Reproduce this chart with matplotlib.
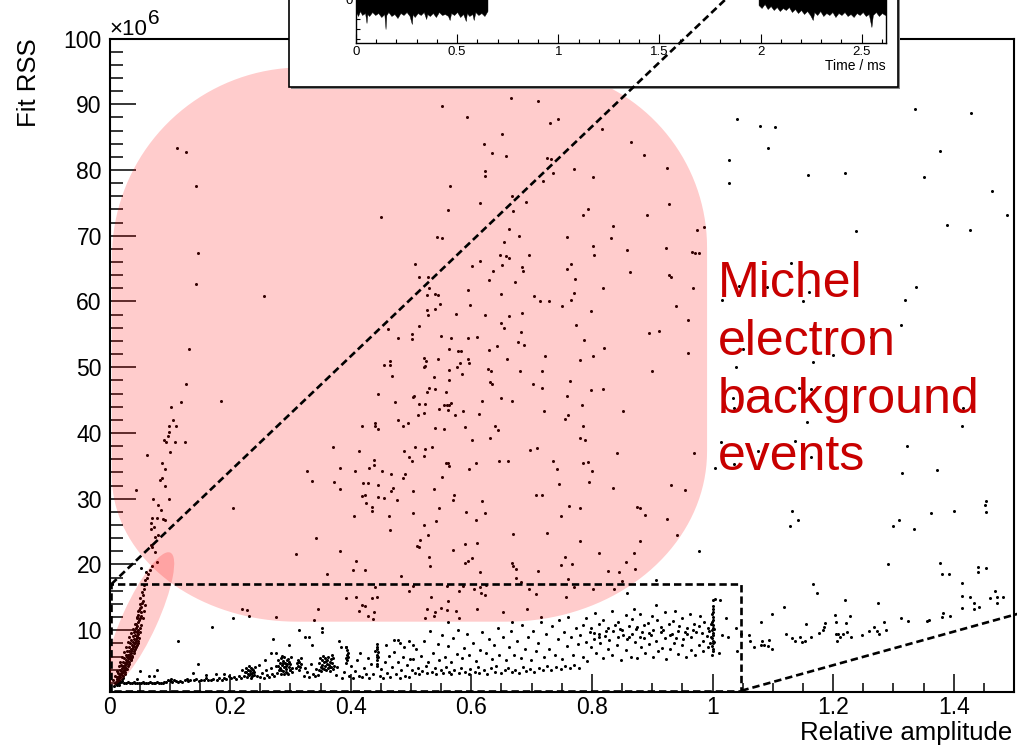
import matplotlib
matplotlib.use('Agg')
import matplotlib.pyplot as plt
import matplotlib.transforms as mtransforms
import numpy as np
from matplotlib.lines import Line2D
from matplotlib.patches import Ellipse, Polygon, Rectangle
from matplotlib.ticker import FixedLocator, FuncFormatter, MultipleLocator

plt.rcParams['font.family'] = ['Liberation Sans', 'DejaVu Sans']

FIG_W, FIG_H = 1017, 752

# (relative amplitude, fit RSS / 1e6)
michel_events = [
    (0.112, 83.4), (0.127, 82.8), (0.144, 77.5), (0.451, 72.9), (0.146, 67.3), (0.144, 62.7),
    (0.256, 60.9), (0.132, 52.7), (0.462, 55.8), (0.478, 54.4), (0.502, 55.1), (0.502, 54.3),
    (0.456, 50.4), (0.465, 50.4), (0.466, 51.0),
    (0.666, 91.0), (0.711, 90.5), (0.551, 89.8), (0.593, 88.0), (0.743, 87.8), (0.730, 87.1),
    (0.816, 86.2), (0.651, 85.4), (0.865, 84.2), (0.621, 84.0), (0.635, 82.6), (0.657, 82.1),
    (0.887, 82.3), (0.726, 81.9), (0.732, 81.6), (0.770, 80.1), (0.925, 80.3), (0.622, 79.9),
    (0.622, 79.1), (0.735, 79.5), (0.801, 78.9), (0.719, 78.3), (0.564, 77.6), (0.667, 76.1),
    (0.690, 75.2), (0.615, 75.0), (0.928, 74.8), (0.561, 73.9), (0.669, 73.8), (0.794, 74.1),
    (0.785, 73.2), (0.892, 73.1), (0.835, 71.5), (0.986, 71.3), (0.975, 70.9), (0.663, 71.1),
    (0.543, 69.8), (0.551, 69.6), (0.679, 69.9), (0.758, 69.8), (0.831, 69.7), (0.655, 69.1),
    (0.801, 68.5), (0.859, 67.9), (0.923, 68.1), (0.966, 67.6), (0.971, 67.4), (0.977, 67.4),
    (0.507, 65.7), (0.648, 67.0), (0.657, 66.9), (0.662, 66.6), (0.695, 67.0), (0.803, 67.1),
    (0.614, 66.2), (0.601, 65.4), (0.651, 65.6), (0.684, 65.3), (0.686, 64.6), (0.758, 65.0),
    (0.765, 65.7), (0.636, 64.6), (0.863, 64.5), (0.928, 64.0), (0.931, 63.7), (0.513, 63.8),
    (0.529, 63.7), (0.772, 63.4), (0.629, 63.2), (0.672, 63.0), (0.530, 62.0), (0.819, 62.0),
    (0.968, 62.0), (0.595, 61.7), (0.527, 61.0), (0.539, 61.2), (0.545, 61.0), (0.650, 61.1),
    (0.704, 60.9), (0.770, 61.3), (0.714, 60.0), (0.729, 60.0), (0.766, 60.2), (0.750, 59.3),
    (0.548, 59.6), (0.598, 59.4), (0.940, 59.3), (0.527, 58.7), (0.529, 57.9), (0.540, 58.9),
    (0.575, 58.1), (0.622, 57.9), (0.663, 57.8), (0.684, 58.3), (0.799, 58.6), (0.960, 57.2),
    (0.649, 56.8), (0.654, 55.9), (0.773, 56.5), (0.513, 56.3), (0.549, 54.7), (0.566, 54.4),
    (0.595, 54.4), (0.609, 54.6), (0.682, 55.4), (0.677, 53.9), (0.688, 53.4), (0.895, 55.2),
    (0.912, 55.5), (0.787, 54.2), (0.563, 52.7), (0.578, 52.5), (0.583, 52.4), (0.630, 52.6),
    (0.643, 53.3), (0.820, 52.9), (0.960, 52.1), (0.723, 51.7), (0.801, 51.7), (0.545, 51.3),
    (0.521, 51.4), (0.525, 50.9), (0.524, 50.2), (0.522, 50.1), (0.594, 51.3), (0.597, 50.7),
    (0.582, 50.7), (0.577, 50.1), (0.660, 51.3), (0.781, 51.1), (0.563, 49.6), (0.627, 49.8),
    (0.632, 49.5), (0.585, 49.0), (0.681, 49.4), (0.718, 49.5), (0.900, 49.5),
    (0.204, 28.6), (0.343, 24.0), (0.310, 21.6), (0.383, 22.1), (0.360, 18.6), (0.403, 19.2),
    (0.424, 19.1), (0.409, 20.5), (0.483, 18.2), (0.328, 34.2), (0.336, 32.7), (0.370, 37.9),
    (0.382, 34.6), (0.373, 32.5), (0.382, 31.5), (0.414, 37.3), (0.407, 34.2), (0.419, 41.1),
    (0.440, 41.5), (0.441, 41.0), (0.445, 40.6), (0.445, 45.9), (0.468, 48.7), (0.473, 44.7),
    (0.478, 41.9), (0.487, 41.0), (0.495, 41.5), (0.504, 45.5), (0.438, 35.9), (0.430, 34.6),
    (0.439, 35.1), (0.452, 34.2), (0.467, 33.7), (0.420, 32.4), (0.429, 32.4), (0.445, 32.1),
    (0.470, 31.6), (0.467, 31.2), (0.490, 33.8), (0.486, 33.1), (0.497, 36.4), (0.502, 35.8),
    (0.488, 37.2), (0.418, 30.4), (0.423, 30.6), (0.425, 29.4), (0.445, 30.2), (0.455, 30.1),
    (0.476, 29.8), (0.436, 28.8), (0.436, 28.1), (0.405, 27.3), (0.463, 27.3), (0.465, 25.3),
    (0.504, 31.1), (0.503, 27.8), (0.440, 16.5), (0.436, 14.9), (0.444, 15.1), (0.409, 15.1),
    (0.392, 14.9), (0.418, 13.9), (0.423, 13.7), (0.413, 12.9), (0.439, 12.7), (0.437, 11.7),
    (0.428, 12.2), (0.496, 15.9), (0.346, 13.2), (0.339, 11.6), (0.276, 12.0), (0.220, 13.3),
    (0.228, 13.1), (0.231, 12.2), (0.205, 11.8),
    (0.538, 48.5), (0.563, 48.1), (0.631, 47.7), (0.635, 47.4), (0.702, 47.4), (0.717, 46.9),
    (0.764, 47.9), (0.799, 46.5), (0.819, 46.7), (0.530, 46.8), (0.526, 46.2), (0.539, 46.7),
    (0.558, 46.2), (0.505, 45.6), (0.513, 44.4), (0.523, 44.4), (0.512, 42.7), (0.522, 43.0),
    (0.554, 44.3), (0.559, 44.3), (0.563, 44.2), (0.567, 44.6), (0.546, 43.6), (0.561, 43.5),
    (0.573, 42.8), (0.587, 43.3), (0.617, 44.9), (0.650, 45.3), (0.667, 44.9), (0.612, 42.9),
    (0.721, 43.4), (0.758, 45.6), (0.783, 44.2), (0.756, 42.1), (0.760, 42.8), (0.852, 43.3),
    (0.540, 40.7), (0.554, 40.6), (0.590, 40.9), (0.639, 41.0), (0.644, 40.4), (0.785, 41.1),
    (0.781, 39.2), (0.788, 38.9), (0.601, 38.9), (0.631, 39.2), (0.507, 37.8), (0.524, 37.6),
    (0.535, 37.8), (0.521, 36.5), (0.558, 35.5), (0.561, 35.5), (0.563, 35.0), (0.597, 34.5),
    (0.608, 35.4), (0.646, 35.8), (0.661, 35.7), (0.697, 37.4), (0.709, 37.7), (0.735, 35.8),
    (0.742, 34.5), (0.786, 35.5), (0.793, 35.6), (0.800, 34.2), (0.795, 32.6), (0.842, 36.9),
    (0.970, 36.9), (0.552, 33.3), (0.745, 32.3), (0.835, 31.6), (0.932, 32.1), (0.954, 31.4),
    (0.538, 31.5), (0.572, 30.6), (0.569, 29.8), (0.617, 29.6), (0.708, 30.6), (0.717, 30.6),
    (0.546, 28.6), (0.592, 28.0), (0.622, 27.9), (0.541, 26.6), (0.607, 26.7), (0.762, 28.9),
    (0.780, 28.6), (0.748, 27.4), (0.874, 28.8), (0.879, 28.6), (0.888, 27.5), (0.924, 26.9),
    (0.522, 26.0), (0.528, 24.5), (0.515, 23.7), (0.510, 22.8), (0.514, 22.7), (0.669, 24.6),
    (0.725, 24.8), (0.781, 23.6), (0.590, 23.1), (0.609, 23.3), (0.570, 22.2), (0.880, 23.5),
    (0.941, 24.5), (0.978, 22.0), (0.811, 21.8), (0.870, 21.7), (0.530, 21.1), (0.532, 19.7),
    (0.590, 20.2), (0.595, 20.6), (0.601, 21.0), (0.668, 20.3), (0.669, 19.7), (0.674, 19.3),
    (0.756, 21.1), (0.748, 19.9), (0.767, 20.1), (0.857, 20.4), (0.871, 19.3), (0.615, 18.9),
    (0.711, 19.0), (0.826, 19.0), (0.845, 18.9), (0.674, 17.9), (0.683, 17.4), (0.760, 17.8),
    (0.850, 17.5), (0.906, 17.7), (0.503, 16.8), (0.560, 16.8), (0.587, 16.8), (0.614, 16.6),
    (0.624, 16.9), (0.695, 16.2), (0.707, 15.5), (0.771, 16.5), (0.801, 16.2), (0.837, 16.3),
    (0.858, 15.7), (0.580, 16.0), (0.604, 16.2), (0.616, 15.7), (0.623, 15.3), (0.533, 15.1),
    (0.757, 15.0), (0.562, 14.5), (0.527, 13.3), (0.540, 12.8), (0.538, 12.2), (0.549, 13.4),
    (0.560, 13.1), (0.574, 13.0), (0.523, 11.9), (0.580, 11.9), (0.609, 13.3), (0.652, 12.7),
    (0.692, 13.2), (0.716, 12.0), (0.562, 11.3), (0.667, 11.3),
]

steep_branch = [
    (0.008, 1.5), (0.010, 1.8), (0.012, 1.6), (0.011, 2.2), (0.014, 2.0), (0.013, 2.6),
    (0.016, 2.4), (0.015, 3.0), (0.018, 2.9), (0.017, 3.4), (0.020, 3.2), (0.019, 3.8),
    (0.022, 3.6), (0.021, 4.2), (0.024, 4.0), (0.023, 4.6), (0.026, 4.4), (0.025, 5.0),
    (0.028, 4.9), (0.027, 5.4), (0.030, 5.3), (0.029, 5.9), (0.032, 5.7), (0.031, 6.3),
    (0.034, 6.1), (0.033, 6.8), (0.036, 6.6), (0.035, 7.2), (0.038, 7.1), (0.037, 7.7),
    (0.040, 7.6), (0.039, 8.2), (0.042, 8.0), (0.041, 8.7), (0.044, 8.6), (0.043, 9.2),
    (0.046, 9.1), (0.045, 9.8), (0.015, 1.7), (0.018, 2.1), (0.020, 2.6), (0.023, 3.1),
    (0.025, 3.6), (0.028, 4.1), (0.030, 4.6), (0.033, 5.1), (0.035, 5.6), (0.038, 6.1),
    (0.040, 6.6), (0.043, 7.1), (0.045, 7.7), (0.047, 8.3), (0.012, 2.9), (0.014, 3.5),
    (0.017, 4.0), (0.019, 4.7), (0.022, 5.2), (0.024, 5.8), (0.027, 6.3), (0.029, 6.9),
    (0.032, 7.4), (0.034, 8.0), (0.036, 8.5), (0.039, 9.1), (0.041, 9.7), (0.044, 10.3),
    (0.009, 1.9), (0.013, 2.3), (0.016, 2.7), (0.019, 3.3), (0.021, 3.7), (0.024, 4.3),
    (0.026, 4.7), (0.029, 5.2), (0.031, 5.8), (0.034, 6.4), (0.036, 6.9), (0.039, 7.4),
    (0.041, 8.0), (0.044, 8.3), (0.046, 8.9), (0.048, 9.5), (0.047, 10.1), (0.043, 9.9),
    (0.050, 10.4), (0.049, 11.6), (0.046, 12.0), (0.052, 12.2),
    (0.006, 2.4), (0.016, 1.9), (0.009, 3.0), (0.020, 2.3), (0.012, 3.8), (0.023, 2.8),
    (0.015, 4.5), (0.026, 3.4), (0.018, 5.2), (0.029, 4.1), (0.021, 6.0), (0.032, 4.8),
    (0.024, 6.7), (0.035, 5.4), (0.027, 7.5), (0.038, 6.0), (0.030, 8.2), (0.041, 6.8),
    (0.033, 8.9), (0.044, 7.5), (0.036, 9.6), (0.047, 8.0), (0.039, 10.2), (0.049, 8.8),
    (0.042, 11.0), (0.051, 9.7), (0.045, 11.8), (0.053, 10.8), (0.048, 12.9), (0.055, 11.9),
    (0.051, 13.4), (0.057, 12.9), (0.054, 14.2), (0.059, 13.9),
    (0.046, 10.6), (0.048, 11.2), (0.044, 11.0), (0.050, 11.9), (0.047, 12.3), (0.052, 12.8),
    (0.049, 13.1), (0.053, 13.6), (0.051, 14.0), (0.055, 14.5), (0.050, 14.9), (0.056, 15.3),
    (0.054, 15.8), (0.058, 16.2), (0.057, 16.9), (0.059, 17.6), (0.063, 17.9), (0.064, 18.6),
    (0.061, 18.9), (0.067, 19.2), (0.052, 19.4), (0.070, 19.7), (0.079, 20.4), (0.076, 21.9),
    (0.070, 22.7), (0.068, 23.0), (0.076, 24.2), (0.080, 24.5), (0.068, 25.4), (0.074, 25.7),
    (0.069, 26.3), (0.070, 27.0), (0.078, 27.0), (0.089, 26.9), (0.092, 26.8), (0.081, 29.0),
    (0.085, 28.3), (0.098, 30.0), (0.072, 30.0), (0.044, 31.4), (0.092, 31.9), (0.087, 33.1),
    (0.084, 32.9), (0.092, 34.5), (0.087, 35.5), (0.063, 36.6), (0.101, 37.1), (0.091, 38.9),
    (0.094, 38.7), (0.109, 38.6), (0.126, 38.7), (0.097, 39.6), (0.099, 40.1), (0.099, 41.0),
    (0.110, 41.0), (0.105, 42.0), (0.102, 43.9), (0.119, 44.7), (0.185, 44.8), (0.127, 47.4),
]

muon_band = [
    (0.024, 2.0), (0.028, 1.9), (0.031, 2.1), (0.034, 1.9), (0.037, 2.0), (0.040, 2.1),
    (0.043, 1.9), (0.046, 2.0), (0.049, 2.0), (0.052, 1.9), (0.055, 2.1), (0.058, 2.0),
    (0.061, 1.9), (0.064, 2.0), (0.067, 2.1), (0.070, 2.0), (0.073, 1.9), (0.076, 2.0),
    (0.079, 2.1), (0.082, 2.0), (0.085, 1.9), (0.088, 2.0), (0.091, 2.1), (0.051, 3.8),
    (0.079, 4.0), (0.066, 3.1), (0.073, 3.1), (0.045, 2.6),
    (0.094, 2.2), (0.097, 2.5), (0.100, 2.3), (0.102, 2.6), (0.104, 2.2), (0.107, 2.4),
    (0.110, 2.3), (0.113, 2.1), (0.117, 2.3), (0.121, 2.2), (0.125, 2.4), (0.128, 2.6),
    (0.131, 2.3), (0.134, 2.5), (0.138, 3.5), (0.140, 2.4), (0.144, 2.6), (0.148, 2.3),
    (0.152, 2.5), (0.156, 2.4), (0.160, 2.7), (0.164, 2.5), (0.168, 2.4), (0.172, 2.6),
    (0.176, 3.3), (0.178, 2.5), (0.182, 2.7), (0.186, 2.5), (0.190, 2.8), (0.194, 2.6),
    (0.198, 3.0), (0.202, 2.7), (0.206, 2.9), (0.210, 2.6), (0.214, 3.1), (0.218, 2.8),
    (0.220, 4.0), (0.147, 4.8), (0.114, 8.3), (0.170, 10.5), (0.160, 3.2), (0.190, 3.4),
    (0.223, 3.0), (0.225, 3.6), (0.226, 4.2), (0.228, 2.9), (0.229, 3.4), (0.230, 4.0),
    (0.231, 4.5), (0.232, 3.2), (0.233, 3.8), (0.234, 2.8), (0.235, 4.3), (0.236, 3.5),
    (0.237, 3.0), (0.238, 4.0), (0.239, 3.6), (0.240, 3.2), (0.241, 4.4), (0.227, 3.7),
    (0.233, 3.3), (0.236, 4.1),
    (0.245, 3.1), (0.248, 4.7), (0.250, 2.9), (0.253, 3.5), (0.256, 2.8), (0.259, 3.9),
    (0.262, 3.2), (0.265, 2.9), (0.268, 4.2), (0.270, 3.4), (0.273, 3.0), (0.276, 4.5),
    (0.258, 5.5), (0.268, 6.5), (0.276, 6.5), (0.271, 8.7),
    (0.278, 3.5), (0.279, 4.6), (0.280, 5.4), (0.281, 3.9), (0.282, 5.0), (0.283, 4.2),
    (0.284, 5.8), (0.285, 3.4), (0.286, 4.7), (0.287, 5.3), (0.288, 3.8), (0.289, 4.4),
    (0.290, 6.0), (0.291, 5.0), (0.292, 3.6), (0.293, 4.1), (0.294, 5.5), (0.295, 4.8),
    (0.296, 3.3), (0.297, 4.4), (0.298, 5.2), (0.299, 3.9), (0.300, 4.9), (0.301, 5.9),
    (0.302, 4.2), (0.303, 3.6), (0.284, 4.0), (0.288, 5.0), (0.292, 4.6), (0.296, 5.6),
    (0.300, 4.0), (0.290, 3.3), (0.286, 6.1), (0.294, 3.5),
    (0.310, 4.2), (0.311, 5.0), (0.312, 4.6), (0.313, 5.5), (0.314, 4.0), (0.315, 5.2),
    (0.316, 4.4), (0.317, 5.7), (0.318, 4.8),
    (0.322, 3.1), (0.325, 4.3), (0.328, 3.6), (0.331, 2.9), (0.334, 4.8), (0.337, 3.4),
    (0.340, 3.0), (0.343, 4.1), (0.345, 3.2), (0.298, 7.8), (0.324, 8.9), (0.331, 9.0),
    (0.335, 7.8), (0.314, 10.1), (0.352, 10.3), (0.352, 9.7),
    (0.347, 4.0), (0.348, 5.0), (0.349, 5.8), (0.350, 4.4), (0.351, 3.8), (0.352, 5.4),
    (0.353, 4.7), (0.354, 6.1), (0.355, 4.1), (0.356, 5.2), (0.357, 4.5), (0.358, 5.8),
    (0.359, 3.9), (0.360, 4.9), (0.361, 5.5), (0.362, 4.3), (0.363, 6.0), (0.364, 4.7),
    (0.365, 5.1), (0.366, 3.8), (0.367, 5.6), (0.368, 4.4), (0.369, 5.0), (0.370, 4.1),
    (0.371, 5.7), (0.372, 4.6), (0.353, 4.2), (0.359, 5.3), (0.365, 4.4), (0.369, 6.2),
    (0.376, 3.2), (0.378, 4.4), (0.381, 8.4), (0.384, 7.4), (0.386, 2.8), (0.389, 3.6),
    (0.392, 7.5), (0.396, 6.0), (0.398, 3.0), (0.401, 4.5), (0.404, 2.7), (0.407, 3.8),
    (0.410, 5.4), (0.413, 3.1), (0.416, 6.5), (0.419, 2.9), (0.422, 4.2), (0.425, 3.4),
    (0.428, 5.7), (0.431, 2.8), (0.434, 4.8), (0.437, 3.3), (0.440, 6.8),
    (0.393, 5.0), (0.394, 5.4), (0.393, 5.8), (0.394, 6.2), (0.395, 6.6), (0.394, 7.0),
    (0.393, 7.4),
    (0.444, 5.5), (0.443, 5.9), (0.444, 6.3), (0.445, 6.7), (0.444, 7.1), (0.443, 7.5),
    (0.444, 7.9), (0.445, 6.0), (0.444, 4.5), (0.444, 4.9),
    (0.448, 3.0), (0.451, 4.1), (0.454, 2.8), (0.457, 5.2), (0.458, 7.7), (0.460, 3.5),
    (0.463, 6.1), (0.466, 2.9), (0.469, 4.4), (0.471, 8.5), (0.472, 6.7), (0.475, 3.3),
    (0.478, 8.5), (0.478, 5.1), (0.481, 2.8), (0.482, 8.0), (0.484, 3.9), (0.487, 6.0),
    (0.488, 7.4), (0.490, 3.1), (0.493, 4.7), (0.496, 2.9), (0.497, 8.3), (0.499, 5.6),
    (0.504, 7.8),
    (0.501, 3.9), (0.506, 3.5), (0.511, 4.3), (0.514, 3.4), (0.519, 3.8), (0.525, 4.5),
    (0.527, 3.5), (0.534, 3.7), (0.539, 4.2), (0.542, 3.4), (0.549, 3.9), (0.553, 3.5),
    (0.558, 4.4), (0.563, 3.6), (0.566, 3.4), (0.572, 4.0), (0.580, 3.5), (0.583, 4.3),
    (0.589, 3.7), (0.596, 3.4), (0.598, 4.1), (0.606, 3.6), (0.611, 4.4), (0.613, 3.5),
    (0.621, 3.9), (0.626, 3.4), (0.633, 4.2), (0.639, 3.6), (0.641, 4.6), (0.649, 3.5),
    (0.656, 3.9), (0.661, 4.3), (0.668, 3.6), (0.673, 4.0), (0.679, 3.5), (0.686, 4.4),
    (0.691, 3.8), (0.698, 4.1), (0.704, 3.6), (0.713, 4.3), (0.719, 3.9), (0.726, 4.5),
    (0.733, 4.0), (0.741, 4.4), (0.749, 4.1), (0.756, 4.6), (0.764, 4.2), (0.771, 4.7),
    (0.778, 4.3),
    (0.503, 5.6), (0.509, 7.2), (0.516, 6.1), (0.521, 8.4), (0.529, 5.2), (0.531, 9.9),
    (0.537, 6.6), (0.544, 7.9), (0.546, 5.4), (0.551, 9.2), (0.556, 6.0), (0.561, 7.6),
    (0.567, 5.1), (0.570, 8.8), (0.576, 6.4), (0.578, 10.1), (0.585, 5.7), (0.588, 7.3),
    (0.593, 9.5), (0.597, 6.2), (0.603, 8.1), (0.608, 5.3), (0.615, 7.0), (0.618, 9.8),
    (0.624, 6.5), (0.629, 8.6), (0.634, 5.6), (0.637, 7.7), (0.644, 10.4), (0.646, 6.3),
    (0.653, 8.9), (0.658, 5.4), (0.663, 7.4), (0.666, 9.9), (0.671, 6.2), (0.676, 8.3),
    (0.682, 5.7), (0.684, 10.8), (0.689, 7.1), (0.694, 8.9), (0.699, 5.5), (0.703, 9.9),
    (0.708, 6.8), (0.711, 8.0), (0.716, 11.2), (0.721, 5.9), (0.724, 9.4), (0.729, 7.2),
    (0.734, 10.6), (0.738, 6.3), (0.743, 8.7), (0.746, 11.5), (0.751, 5.6), (0.754, 9.8),
    (0.759, 7.6), (0.761, 12.0), (0.766, 8.9), (0.769, 6.2), (0.774, 10.4), (0.777, 7.9),
    (0.781, 9.3), (0.785, 6.0), (0.786, 10.8), (0.790, 8.2), (0.791, 11.9), (0.792, 5.3),
    (0.797, 9.8), (0.798, 7.4), (0.799, 10.4), (0.804, 8.7), (0.805, 12.6), (0.806, 6.6),
    (0.811, 9.4), (0.812, 10.9), (0.814, 8.0), (0.818, 5.7), (0.819, 11.6), (0.821, 9.1),
    (0.826, 7.2), (0.827, 10.3), (0.828, 8.5), (0.833, 12.9), (0.834, 6.3), (0.835, 9.9),
    (0.839, 10.8), (0.842, 7.7), (0.843, 11.3), (0.844, 8.9), (0.849, 5.4), (0.850, 10.1),
    (0.851, 9.3), (0.856, 12.3), (0.857, 7.0), (0.858, 8.6), (0.862, 10.6), (0.865, 6.0),
    (0.866, 9.5), (0.867, 11.7), (0.872, 8.2), (0.873, 10.2), (0.874, 5.8), (0.879, 9.0),
    (0.880, 12.5), (0.881, 7.5), (0.886, 10.8), (0.887, 8.8), (0.888, 6.6), (0.893, 11.1),
    (0.894, 9.6), (0.895, 7.9), (0.900, 12.1), (0.901, 5.9), (0.902, 10.0), (0.907, 8.4),
    (0.908, 11.5), (0.909, 6.9), (0.914, 9.7), (0.915, 10.5), (0.916, 7.3), (0.921, 12.7),
    (0.922, 8.8), (0.923, 5.6), (0.928, 10.9), (0.929, 9.2), (0.930, 7.1), (0.935, 11.4),
    (0.936, 8.1), (0.937, 12.9), (0.942, 6.4), (0.943, 9.9), (0.944, 10.7), (0.949, 7.7),
    (0.950, 11.8), (0.951, 8.6), (0.956, 5.9), (0.957, 10.3), (0.958, 9.4), (0.963, 12.4),
    (0.964, 7.0), (0.965, 8.9), (0.970, 11.0), (0.971, 6.2), (0.972, 9.8), (0.977, 10.6),
    (0.978, 7.8), (0.979, 12.2), (0.984, 8.4), (0.985, 6.9), (0.986, 11.3), (0.991, 9.1),
    (0.992, 7.5), (0.993, 10.4), (0.996, 8.1), (0.803, 9.6), (0.824, 9.9), (0.846, 10.2),
    (0.861, 9.0), (0.883, 9.7), (0.898, 9.2), (0.918, 10.0), (0.933, 9.5), (0.954, 9.8),
    (0.968, 10.1), (0.982, 9.6), (0.995, 9.9), (0.812, 8.9), (0.875, 10.5), (0.940, 8.8),
    (0.907, 13.9), (0.869, 13.2), (1.004, 14.7),
    (0.999, 6.3), (1.000, 6.8), (1.001, 7.2), (0.999, 7.6), (1.000, 8.0), (1.001, 8.4),
    (0.999, 8.8), (1.000, 9.2), (1.001, 9.6), (0.999, 10.0), (1.000, 10.4), (1.001, 10.8),
    (0.999, 11.2), (1.000, 11.6), (1.001, 12.0), (0.999, 12.4), (1.000, 12.8), (1.001, 13.2),
    (1.000, 13.7), (1.000, 14.6), (0.998, 9.0), (1.002, 10.2), (0.998, 11.0), (1.002, 8.2),
]

high_amp_events = [
    (1.040, 87.7), (1.078, 86.7), (1.104, 86.5), (1.092, 83.3), (1.027, 81.5), (1.027, 78.0),
    (1.158, 79.3), (1.220, 79.5), (1.335, 89.3), (1.428, 88.6), (1.378, 82.9), (1.350, 79.0),
    (1.463, 76.8), (1.488, 73.1), (1.238, 70.7), (1.389, 71.7), (1.427, 70.8), (1.131, 65.9),
    (1.044, 62.3), (1.090, 62.2), (1.160, 61.5), (1.150, 60.0), (1.015, 60.3), (1.337, 62.2),
    (1.319, 60.3), (1.312, 56.5), (1.263, 54.6), (1.200, 51.8), (1.167, 50.8), (1.051, 52.8),
    (1.039, 50.1), (1.144, 46.8), (1.163, 46.7), (1.034, 45.3), (1.036, 43.8), (1.415, 43.8),
    (1.413, 41.1), (1.156, 41.6), (1.323, 38.0), (1.014, 38.6), (1.076, 37.2), (1.136, 38.8),
    (1.163, 36.3), (1.036, 35.3), (1.004, 34.7), (1.314, 33.9), (1.373, 34.4), (1.132, 28.1),
    (1.129, 25.8), (1.142, 26.8), (1.300, 25.9), (1.310, 26.8), (1.334, 25.4), (1.363, 27.9),
    (1.401, 28.2), (1.454, 29.7), (1.452, 29.0), (1.454, 28.0), (1.291, 20.0), (1.378, 20.2),
    (1.380, 18.5), (1.393, 18.5), (1.441, 19.6), (1.441, 18.9), (1.454, 19.4), (1.166, 17.1),
    (1.174, 15.6), (1.413, 17.2), (1.119, 13.5), (1.098, 12.5), (1.219, 14.6), (1.274, 14.2),
    (1.413, 15.2), (1.427, 15.1), (1.434, 14.1), (1.433, 13.3), (1.442, 13.5), (1.413, 13.4),
    (1.469, 15.9), (1.472, 15.1), (1.472, 14.2), (1.482, 15.1), (1.461, 14.9), (1.012, 14.6),
    (1.023, 11.8), (1.025, 8.9), (1.039, 10.3), (1.040, 6.8), (1.010, 6.6), (1.016, 9.2),
    (1.047, 9.4), (1.060, 9.3), (1.062, 8.4), (1.069, 7.5), (1.080, 11.2), (1.082, 8.4),
    (1.080, 7.7), (1.086, 7.7), (1.093, 8.5), (1.092, 7.6), (1.098, 7.2), (1.122, 9.4),
    (1.132, 8.8), (1.136, 8.3), (1.145, 8.9), (1.149, 8.2), (1.153, 8.3), (1.155, 11.0),
    (1.163, 9.0), (1.176, 9.6), (1.184, 10.0), (1.187, 11.1), (1.185, 10.5), (1.203, 12.3),
    (1.205, 11.3), (1.204, 9.5), (1.208, 9.4), (1.206, 8.4), (1.211, 8.9), (1.217, 9.5),
    (1.221, 11.1), (1.223, 9.7), (1.228, 12.1), (1.229, 9.0), (1.248, 9.3), (1.259, 9.9),
    (1.267, 10.5), (1.272, 9.9), (1.276, 9.5), (1.284, 11.2), (1.287, 10.0), (1.313, 11.9),
    (1.325, 11.4), (1.355, 11.4), (1.359, 11.5), (1.381, 12.0), (1.383, 12.6), (1.394, 12.1),
]

# inset waveform: (time / ms, lower edge of the noise band)
wave_early = [
    (0.000, -13), (0.010, -17), (0.020, -12), (0.030, -16), (0.045, -14), (0.052, -24),
    (0.056, -15), (0.065, -17), (0.080, -13), (0.095, -16), (0.110, -14), (0.125, -18),
    (0.140, -15), (0.146, -30), (0.150, -16), (0.160, -13), (0.175, -17), (0.190, -15),
    (0.205, -19), (0.220, -14), (0.235, -16), (0.250, -13), (0.265, -17), (0.276, -25),
    (0.280, -15), (0.290, -18), (0.305, -14), (0.320, -16), (0.335, -13), (0.347, -20),
    (0.352, -15), (0.365, -17), (0.380, -14), (0.395, -18), (0.410, -13), (0.425, -16),
    (0.440, -15), (0.455, -17), (0.463, -21), (0.470, -14), (0.485, -16), (0.500, -13),
    (0.515, -18), (0.530, -15), (0.543, -22), (0.548, -14), (0.560, -17), (0.575, -15),
    (0.582, -21), (0.590, -13), (0.605, -16), (0.620, -14), (0.635, -17), (0.650, -12),
]
wave_late = [
    (1.990, -6), (2.005, -9), (2.020, -5), (2.035, -10), (2.050, -7), (2.065, -11),
    (2.080, -8), (2.095, -12), (2.110, -9), (2.125, -11), (2.140, -8), (2.155, -13),
    (2.170, -10), (2.185, -14), (2.200, -11), (2.215, -15), (2.230, -12), (2.245, -16),
    (2.258, -21), (2.265, -13), (2.280, -16), (2.295, -12), (2.310, -17), (2.325, -14),
    (2.340, -16), (2.355, -13), (2.370, -18), (2.385, -14), (2.400, -16), (2.415, -13),
    (2.430, -17), (2.445, -15), (2.460, -18), (2.475, -14), (2.490, -16), (2.505, -13),
    (2.520, -17), (2.535, -15), (2.548, -28), (2.555, -16), (2.570, -13), (2.585, -17),
    (2.600, -14), (2.615, -16), (2.620, -15),
]
wave_fit = [(2.540, 1.5), (2.580, 1.5)]

label_lines = ['Michel', 'electron', 'background', 'events']

# zoom box and the lines to the insets
zoom_box = (0.003, 0.8, 1.048, 17.0)
zoom_line_up = [(0.003, 17.0), (1.021, 105.9)]
zoom_line_right = [(1.048, 0.8), (1.53, 13.1)]

PINK = (1.0, 0.0, 0.0, 0.2)
RED_TEXT = '#c80000'


def rounded_box(x0, x1, y0, y1, radii, n=40):
    """Outline of a box whose corners are elliptical arcs: bl, br, tr, tl."""
    bl, br, tr, tl = radii
    corners = [
        (x1 - br[0], y0 + br[1], br, -90, 0),
        (x1 - tr[0], y1 - tr[1], tr, 0, 90),
        (x0 + tl[0], y1 - tl[1], tl, 90, 180),
        (x0 + bl[0], y0 + bl[1], bl, 180, 270),
    ]
    xs, ys = [], []
    for cx, cy, (rx, ry), a0, a1 in corners:
        t = np.radians(np.linspace(a0, a1, n))
        xs.extend(cx + rx * np.cos(t))
        ys.extend(cy + ry * np.sin(t))
    return np.column_stack([xs, ys])


def g_fmt(v, _):
    return f'{v:g}'


fig = plt.figure(figsize=(FIG_W / 100, FIG_H / 100), dpi=100)
ax = fig.add_axes([109.5 / FIG_W, 1 - 691.7 / FIG_H, 904.5 / FIG_W, 653.2 / FIG_H])
ax.set_autoscale_on(False)
ax.set_xlim(0, 1.5)
ax.set_ylim(0.65, 100)

for pts in (michel_events, steep_branch, muon_band, high_amp_events):
    x, y = np.array(pts).T
    ax.plot(x, y, linestyle='none', marker='o', ms=2.2, mew=0, color='black', zorder=2)

# highlighted regions
box = rounded_box(0.004, 0.991, 11.3, 95.6,
                  [(0.307, 22.1), (0.332, 25.9), (0.299, 27.4), (0.315, 28.9)])
ax.add_patch(Polygon(box, closed=True, facecolor=PINK, edgecolor='none', zorder=3))
ell_trans = fig.dpi_scale_trans + mtransforms.ScaledTranslation(0.0506, 11.7, ax.transData)
ax.add_patch(Ellipse((0, 0), 1.46, 0.35, angle=65.5, transform=ell_trans,
                     facecolor=PINK, edgecolor='none', zorder=3))

ax.xaxis.set_major_locator(MultipleLocator(0.2))
ax.xaxis.set_minor_locator(MultipleLocator(0.05))
ax.yaxis.set_major_locator(MultipleLocator(10))
ax.yaxis.set_minor_locator(MultipleLocator(2))
ax.xaxis.set_major_formatter(FuncFormatter(g_fmt))
ax.yaxis.set_major_formatter(FuncFormatter(g_fmt))
ax.tick_params(which='both', direction='in', top=False, right=False, width=1.1)
ax.tick_params(axis='x', which='major', length=13, pad=3, labelsize=16.5)
ax.tick_params(axis='x', which='minor', length=6.5)
ax.tick_params(axis='y', which='major', length=18.5, pad=5.5, labelsize=16.5)
ax.tick_params(axis='y', which='minor', length=9.5)
for spine in ax.spines.values():
    spine.set_linewidth(1.5)

ax.set_xlabel('Relative amplitude', fontsize=18.5, ha='right')
ax.xaxis.set_label_coords(0.9978, -0.045)
ax.set_ylabel('Fit RSS', fontsize=18.5, ha='right')
ax.yaxis.set_label_coords(-0.0757, 1.0)
ax.text(0.0, 1.0054, '\u00d710', transform=ax.transAxes, fontsize=16, va='baseline')
ax.text(0.0425, 1.0215, '6', transform=ax.transAxes, fontsize=15, va='baseline')

for i, line in enumerate(label_lines):
    ax.text(0.6727, 0.6038 - i * 0.0883, line, transform=ax.transAxes, fontsize=36,
            color=RED_TEXT, va='baseline', zorder=6)

# inset pad and its waveform
fig.add_artist(Rectangle((290.5 / FIG_W, 1 - 88.5 / FIG_H), 609 / FIG_W, 0.3,
                         transform=fig.transFigure, facecolor='#888888',
                         edgecolor='none', zorder=1))
fig.add_artist(Rectangle((289 / FIG_W, 1 - 87 / FIG_H), 609 / FIG_W, 0.3,
                         transform=fig.transFigure, facecolor='white',
                         edgecolor='black', linewidth=1.2, zorder=1.1))
ins = fig.add_axes([356 / FIG_W, 1 - 43 / FIG_H, 530 / FIG_W, 294 / FIG_H], zorder=2)
ins.set_xlim(0, 2.62)
ins.set_ylim(-44, 250)
for seg in (wave_early, wave_late):
    t, low = np.array(seg).T
    ins.fill_between(t, low, 60, color='black', linewidth=0.3)
t, v = np.array(wave_fit).T
ins.plot(t, v, color='red', linewidth=2.2)
ins.xaxis.set_major_locator(MultipleLocator(0.5))
ins.xaxis.set_minor_locator(MultipleLocator(0.1))
ins.yaxis.set_major_locator(FixedLocator([0]))
ins.yaxis.set_minor_locator(MultipleLocator(10))
ins.xaxis.set_major_formatter(FuncFormatter(g_fmt))
ins.yaxis.set_major_formatter(FuncFormatter(g_fmt))
ins.tick_params(which='both', direction='in', top=False, right=False, width=0.8,
                labelsize=9.5)
ins.tick_params(which='major', length=6.5, pad=2.5)
ins.tick_params(which='minor', length=3)
for spine in ins.spines.values():
    spine.set_linewidth(1.0)
ins.set_xlabel('Time / ms', fontsize=10, ha='right')
ins.xaxis.set_label_coords(1.0, -0.055)

# dashed zoom box and connecting lines, drawn over everything
bx0, by0, bx1, by1 = zoom_box
dash = dict(color='black', linewidth=1.9, linestyle=(0, (2.8, 1.5)),
            transform=ax.transData, clip_on=False, zorder=5)
fig.add_artist(Line2D([bx0, bx0, bx1, bx1, bx0], [by0, by1, by1, by0, by0], **dash))
for seg in (zoom_line_up, zoom_line_right):
    x, y = np.array(seg).T
    fig.add_artist(Line2D(x, y, **dash))

fig.savefig('out.png', dpi=100)
